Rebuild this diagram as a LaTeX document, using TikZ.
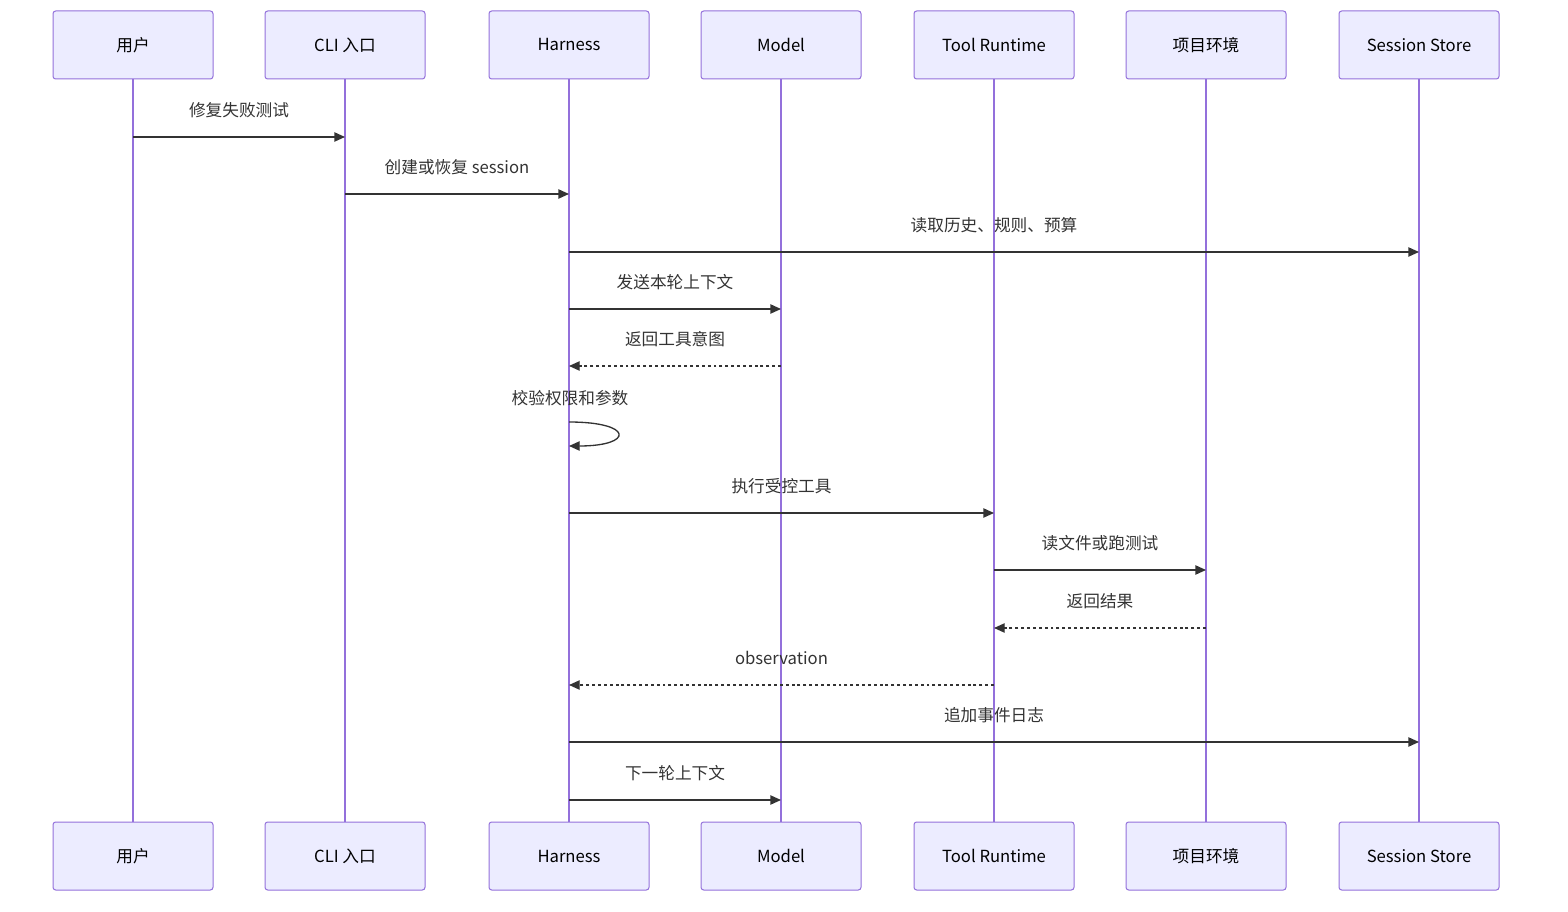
\documentclass[tikz,border=0pt]{standalone}
\usepackage{fontspec}
\setmainfont{Noto Sans CJK SC}
\usetikzlibrary{arrows.meta,calc}
\definecolor{ink}{HTML}{333333}
\definecolor{edge}{HTML}{9370DB}
\definecolor{soft}{HTML}{ECECFF}
\tikzset{
  actor/.style={draw=edge,line width=.75pt,rounded corners=2pt,fill=soft,minimum width=120pt,minimum height=51pt,inner sep=0pt,align=center,font=\fontsize{12.5}{14}\selectfont,text=black},
  life/.style={draw=edge,line width=1.4pt},
  msg/.style={-{Triangle[length=8pt,width=7pt]},draw=ink,line width=1pt},
  rsp/.style={msg,dash pattern=on 2.2pt off 2.2pt},
  lbl/.style={midway,yshift=20pt,font=\fontsize{12.5}{14}\selectfont,text=ink},
}
\begin{document}
\begin{tikzpicture}[x=0.75pt,y=-0.75pt]
  \useasboundingbox (0,0) rectangle (1568,912);
  % lifelines and actors
  \foreach \n/\x/\t in {user/133/用户,cli/345/CLI 入口,harness/569/Harness,model/781/Model,tool/994/Tool Runtime,env/1206/项目环境,store/1419/Session Store} {
    \node[actor] (\n) at (\x,45) {\t};
    \node[actor] (\n b) at (\x,856) {\t};
    \draw[life] (\n.south) -- (\n b.north);
  }
  % message rows
  \foreach \m/\y in {m1/137,m2/194,m3/252,m4/309,m5/366,m6/422,m7/446,m8/513,m9/570,m10/628,m11/685,m12/742,m13/800}
    \coordinate (\m) at (0,\y);
  \draw[msg] (user |- m1) -- node[lbl]{修复失败测试} (cli |- m1);
  \draw[msg] (cli |- m2) -- node[lbl]{创建或恢复 session} (harness |- m2);
  \draw[msg] (harness |- m3) -- node[lbl]{读取历史、规则、预算} (store |- m3);
  \draw[msg] (harness |- m4) -- node[lbl]{发送本轮上下文} (model |- m4);
  \draw[rsp] (model |- m5) -- node[lbl]{返回工具意图} (harness |- m5);
  \node[font=\fontsize{12.5}{14}\selectfont,text=ink] (chk) at ($(harness |- m6)+(1,-24)$) {校验权限和参数};
  \draw[msg] (harness |- m6) .. controls +(65,0) and +(65,0) .. (harness |- m7);
  \draw[msg] (harness |- m8) -- node[lbl]{执行受控工具} (tool |- m8);
  \draw[msg] (tool |- m9) -- node[lbl]{读文件或跑测试} (env |- m9);
  \draw[rsp] (env |- m10) -- node[lbl]{返回结果} (tool |- m10);
  \draw[rsp] (tool |- m11) -- node[lbl]{observation} (harness |- m11);
  \draw[msg] (harness |- m12) -- node[lbl]{追加事件日志} (store |- m12);
  \draw[msg] (harness |- m13) -- node[lbl]{下一轮上下文} (model |- m13);
\end{tikzpicture}
\end{document}
